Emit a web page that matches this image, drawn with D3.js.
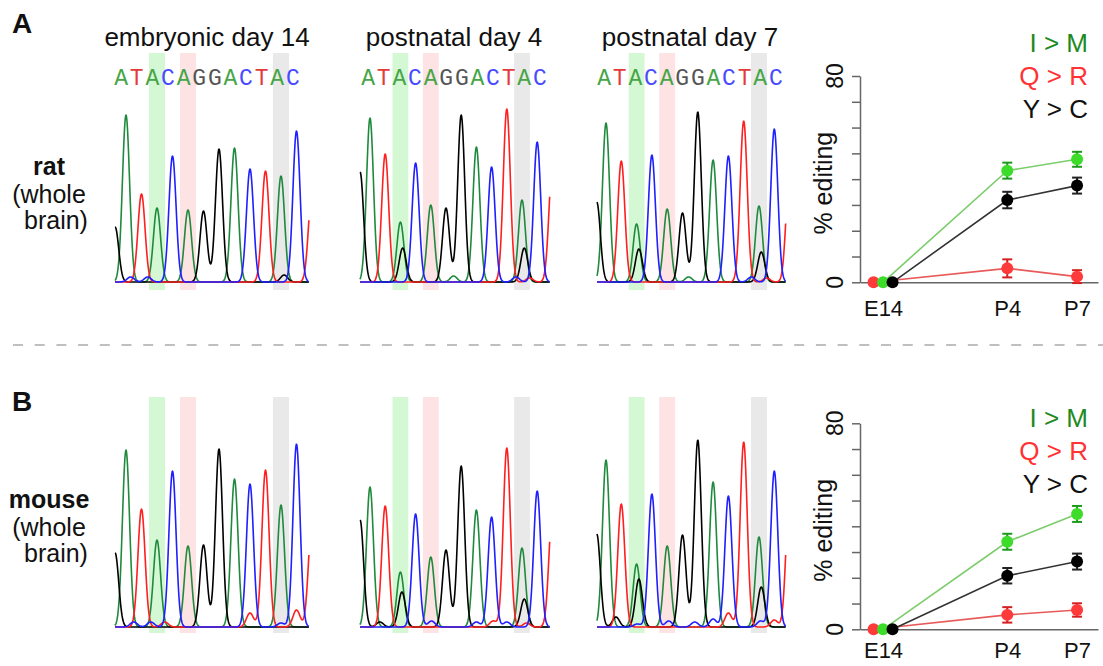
<!DOCTYPE html>
<html>
<head>
<meta charset="utf-8">
<script src="https://cdn.jsdelivr.net/npm/d3@7"></script>
<style>
	body { margin: 0; background: #fff; }
	svg { display: block; }
</style>
</head>
<body>
<svg id="figure" width="1103" height="666"></svg>
<script>
// sequence read above the traces, and the three edited bases in it
const sequence = ['A', 'T', 'A', 'C', 'A', 'G', 'G', 'A', 'C', 'T', 'A', 'C'];
const editSites = [3, 5, 11];
const columnTitles = ['embryonic day 14', 'postnatal day 4', 'postnatal day 7'];

// chromatogram peaks: [base position, base, peak height]
const ratE14 = [
	[0.3, 'G', 55], [1, 'A', 167], [1.3, 'C', 5], [2, 'T', 88], [2.4, 'C', 5],
	[3, 'A', 74], [4, 'C', 126], [5, 'A', 72], [6, 'G', 71], [7, 'G', 133],
	[8, 'A', 134], [9, 'C', 113], [10, 'T', 111], [11, 'A', 106], [11.2, 'G', 7],
	[12, 'C', 151], [13, 'T', 90],
];
const ratP4 = [
	[0.35, 'G', 110], [1, 'A', 164], [2, 'T', 128], [3, 'A', 60], [3.15, 'G', 34],
	[4, 'C', 119], [5, 'A', 77], [6, 'G', 74], [6.5, 'A', 6], [7, 'G', 167],
	[8, 'A', 135], [9, 'C', 115], [10, 'T', 173], [10.6, 'C', 5], [11, 'A', 82],
	[11.15, 'G', 34], [11.5, 'T', 4], [12, 'C', 140], [13, 'T', 115],
];
const ratP7 = [
	[0.4, 'G', 80], [1, 'A', 159], [2, 'T', 121], [3, 'A', 58], [3.15, 'G', 33],
	[4, 'C', 127], [5, 'A', 73], [6, 'G', 69], [6.4, 'A', 5], [7, 'G', 170],
	[8, 'A', 122], [9, 'C', 126], [10, 'T', 161], [10.5, 'C', 5], [11, 'A', 76],
	[11.15, 'G', 30], [11.5, 'T', 4], [12, 'C', 153], [13, 'T', 110],
];
const mouseE14 = [
	[0.3, 'G', 74], [1, 'A', 177], [1.5, 'C', 5], [2, 'T', 118], [2.6, 'C', 5],
	[3, 'A', 87], [3.5, 'T', 5], [4, 'C', 156], [5, 'A', 81], [6, 'G', 82],
	[7, 'G', 178], [8, 'A', 148], [9, 'C', 143], [9, 'T', 14], [10, 'T', 157],
	[11, 'A', 122], [11, 'C', 4], [12, 'C', 183], [12, 'T', 17], [13, 'T', 105],
];
const mouseP4 = [
	[0.35, 'G', 107], [1, 'A', 140], [1.65, 'G', 5], [2, 'T', 121], [3, 'A', 55],
	[3.1, 'G', 35], [4, 'C', 113], [5, 'A', 70], [5.05, 'C', 6], [6, 'G', 77],
	[7, 'G', 161], [8, 'A', 117], [8, 'C', 5], [9, 'C', 110], [9.1, 'T', 6],
	[10, 'T', 179], [10, 'C', 5], [11, 'A', 79], [11.15, 'G', 28], [11.3, 'T', 4],
	[12, 'C', 136], [13, 'T', 115],
];
const mouseP7 = [
	[0.4, 'G', 93], [1, 'A', 167], [1.65, 'G', 10], [2, 'T', 123], [3, 'A', 63],
	[3.15, 'G', 48], [3.05, 'C', 3], [4, 'C', 133], [5, 'A', 81], [5.1, 'C', 6],
	[6, 'G', 92], [6.8, 'C', 5], [7, 'G', 187], [8, 'A', 145], [8, 'C', 8],
	[9, 'C', 131], [9, 'T', 14], [10, 'T', 185], [11, 'A', 90], [11.15, 'G', 40],
	[11.1, 'C', 6], [12, 'C', 156], [12, 'T', 7], [13, 'T', 135],
];

// % editing per developmental stage (mean, sem)
const stages = ['E14', 'P4', 'P7'];
const stageSpacing = [0, 1.78, 2.78];
const editNames = ['I > M', 'Q > R', 'Y > C'];
const ratIM = [0, 43.3, 47.7];
const ratIMErr = [0, 3.1, 2.9];
const ratQR = [0, 5.4, 2.2];
const ratQRErr = [0, 3.5, 2.5];
const ratYC = [0, 31.9, 37.5];
const ratYCErr = [0, 3.2, 3.1];
const mouseIM = [0, 34.0, 44.8];
const mouseIMErr = [0, 3.1, 3.1];
const mouseQR = [0, 5.6, 7.5];
const mouseQRErr = [0, 3.0, 2.6];
const mouseYC = [0, 20.8, 26.3];
const mouseYCErr = [0, 3.0, 3.1];
const yTickLabels = [0, 80];

// styles
const sans = '"Liberation Sans", Arial, Helvetica, sans-serif';
const mono = '"Courier New", "Liberation Mono", monospace';
const baseColor = { A: '#1f8a3d', C: '#1f1fff', G: '#000000', T: '#ff1f1f' };
const letterColor = { A: '#46a546', C: '#4a4aff', G: '#555555', T: '#e23b3b' };
const bandColor = ['#d4f8d4', '#fde3e3', '#e9e9e9'];
const editStyle = {
	'I > M': { dot: '#3ddc2a', line: '#7ccc6c', err: '#1d9a1d', text: '#1e8a1e', dodge: 0 },
	'Q > R': { dot: '#ff3a3a', line: '#e85a5a', err: '#d42020', text: '#ff3333', dodge: -9.5 },
	'Y > C': { dot: '#000000', line: '#333333', err: '#222222', text: '#111111', dodge: 9.5 },
};

const columns = [
	{ center: 207, pos1: 126, step: 15.5, x0: 115, x1: 309 },
	{ center: 454, pos1: 370, step: 15.2, x0: 360, x1: 550 },
	{ center: 690, pos1: 606, step: 15.3, x0: 597, x1: 786 },
];

const rows = [
	{
		letter: 'A', letterY: 33,
		label: ['rat', '(whole', 'brain)'], labelY: [175, 203, 229],
		traces: [ratE14, ratP4, ratP7], base: 282, bandTop: 53, bandBottom: 290, showSeq: true,
		chartZero: 282.3, chartTop: 76, stageY: 300, legendY: 52,
		series: [
			['Q > R', ratQR, ratQRErr],
			['I > M', ratIM, ratIMErr],
			['Y > C', ratYC, ratYCErr],
		],
	},
	{
		letter: 'B', letterY: 411,
		label: ['mouse', '(whole', 'brain)'], labelY: [508, 536, 562],
		traces: [mouseE14, mouseP4, mouseP7], base: 627, bandTop: 397, bandBottom: 633, showSeq: false,
		chartZero: 629.3, chartTop: 423.3, stageY: 642, legendY: 427,
		series: [
			['Q > R', mouseQR, mouseQRErr],
			['I > M', mouseIM, mouseIMErr],
			['Y > C', mouseYC, mouseYCErr],
		],
	},
];

const svg = d3.select('#figure').style('font-family', sans);
const sigma = 0.23; // peak width in base units
const letterSpacing = 1.8;

// sum of the peaks of one base along the visible window
function channel(peaks, b, lo, hi) {
	const pts = [];
	for (let p = lo; p <= hi + 1e-9; p += 0.03) {
		let v = 0;
		peaks.forEach(([pos, base, h]) => {
			if (base === b) v += h * Math.exp(-((p - pos) ** 2) / (2 * sigma * sigma));
		});
		pts.push([p, v]);
	}
	return pts;
}

function drawTrace(g, peaks, col, row) {
	const x = d3.scaleLinear().domain([1, 12]).range([col.pos1, col.pos1 + 11 * col.step]);
	const y = d3.scaleLinear().domain([0, 190]).range([row.base, row.base - 190]);

	// highlighted edit sites
	g.append('g')
		.selectAll('rect')
		.data(editSites)
		.join('rect')
		.attr('x', (d) => x(d - 0.52))
		.attr('width', (d) => x(d + 0.52) - x(d - 0.52))
		.attr('y', row.bandTop)
		.attr('height', row.bandBottom - row.bandTop)
		.attr('fill', (d, i) => bandColor[i]);

	if (row.showSeq) {
		const t = g.append('text')
			.attr('x', col.center + letterSpacing / 2)
			.attr('y', 85)
			.attr('text-anchor', 'middle')
			.attr('font-family', mono)
			.attr('font-size', 23)
			.attr('letter-spacing', letterSpacing);
		t.selectAll('tspan')
			.data(sequence)
			.join('tspan')
			.attr('fill', (d) => letterColor[d])
			.text((d) => d);
	}

	const lo = x.invert(col.x0);
	const hi = x.invert(col.x1);
	const line = d3.line().x((d) => x(d[0])).y((d) => y(d[1]));
	['A', 'G', 'T', 'C'].forEach((b) => {
		g.append('path')
			.attr('d', line(channel(peaks, b, lo, hi)))
			.attr('fill', 'none')
			.attr('stroke', baseColor[b])
			.attr('stroke-width', 1.6)
			.attr('stroke-linejoin', 'round');
	});
}

function drawEditing(g, row) {
	const x = d3.scaleLinear().domain([-0.33, 3.08]).range([860, 1098]);
	const y = d3.scaleLinear().domain([0, 80]).range([row.chartZero, row.chartTop]);

	// y axis with minor ticks every 10
	g.append('g')
		.attr('transform', `translate(${x(-0.33)},0)`)
		.call(d3.axisLeft(y).tickValues(d3.range(0, 81, 10)).tickSize(8).tickSizeOuter(0).tickFormat(''))
		.call((a) => a.selectAll('path, line').attr('stroke', '#666').attr('stroke-width', 1.5));

	g.append('g')
		.selectAll('text')
		.data(yTickLabels)
		.join('text')
		.attr('transform', (d) => `translate(843,${y(d)}) rotate(-90)`)
		.attr('text-anchor', 'middle')
		.attr('font-size', 23)
		.attr('fill', '#111')
		.text((d) => d);

	g.append('text')
		.attr('transform', `translate(832,${(row.chartZero + row.chartTop) / 2 + 4}) rotate(-90)`)
		.attr('text-anchor', 'middle')
		.attr('font-size', 25)
		.attr('fill', '#111')
		.text('% editing');

	// x axis with stage labels
	g.append('g')
		.attr('transform', `translate(0,${y(0)})`)
		.call(d3.axisBottom(x).tickValues(stageSpacing).tickSize(0).tickSizeOuter(0)
			.tickPadding(row.stageY - row.chartZero).tickFormat((d, i) => stages[i]))
		.call((a) => a.select('.domain').attr('stroke', '#666').attr('stroke-width', 1.5))
		.call((a) => a.selectAll('.tick text').attr('font-size', 22).attr('font-family', sans).attr('fill', '#111'));

	row.series.forEach(([name, values, errs]) => {
		const st = editStyle[name];
		const pts = values.map((v, i) => ({
			x: x(stageSpacing[i]) + (i === 0 ? st.dodge : 0),
			v,
			e: errs[i],
		}));
		const s = g.append('g');
		s.append('path')
			.attr('d', d3.line().x((d) => d.x).y((d) => y(d.v))(pts))
			.attr('fill', 'none')
			.attr('stroke', st.line)
			.attr('stroke-width', 1.6);

		const bars = s.selectAll('.err').data(pts.filter((d) => d.e > 0)).join('g').attr('stroke', st.err).attr('stroke-width', 2);
		bars.append('line')
			.attr('x1', (d) => d.x).attr('x2', (d) => d.x)
			.attr('y1', (d) => y(d.v - d.e)).attr('y2', (d) => y(d.v + d.e));
		bars.append('line')
			.attr('x1', (d) => d.x - 5).attr('x2', (d) => d.x + 5)
			.attr('y1', (d) => y(d.v + d.e)).attr('y2', (d) => y(d.v + d.e));
		bars.append('line')
			.attr('x1', (d) => d.x - 5).attr('x2', (d) => d.x + 5)
			.attr('y1', (d) => y(d.v - d.e)).attr('y2', (d) => y(d.v - d.e));

		s.selectAll('circle')
			.data(pts)
			.join('circle')
			.attr('cx', (d) => d.x)
			.attr('cy', (d) => y(d.v))
			.attr('r', 6)
			.attr('fill', st.dot);
	});

	// legend
	g.append('g')
		.selectAll('text')
		.data(editNames)
		.join('text')
		.attr('x', 1088)
		.attr('y', (d, i) => row.legendY + i * 33)
		.attr('text-anchor', 'end')
		.attr('font-size', 26)
		.attr('fill', (d) => editStyle[d].text)
		.text((d) => d);
}

// column titles
svg.append('g')
	.selectAll('text')
	.data(columnTitles)
	.join('text')
	.attr('x', (d, i) => columns[i].center)
	.attr('y', 46)
	.attr('text-anchor', 'middle')
	.attr('font-size', 26)
	.attr('fill', '#111')
	.text((d) => d);

rows.forEach((row) => {
	const g = svg.append('g');

	g.append('text')
		.attr('x', 12)
		.attr('y', row.letterY)
		.attr('font-size', 28)
		.attr('font-weight', 'bold')
		.attr('fill', '#111')
		.text(row.letter);

	g.append('g')
		.selectAll('text')
		.data(row.label)
		.join('text')
		.attr('x', (d, i) => (i === 2 ? 56 : 49))
		.attr('y', (d, i) => row.labelY[i])
		.attr('text-anchor', 'middle')
		.attr('font-size', 25)
		.attr('font-weight', (d, i) => (i === 0 ? 'bold' : 'normal'))
		.attr('fill', '#111')
		.text((d) => d);

	row.traces.forEach((peaks, i) => drawTrace(g.append('g'), peaks, columns[i], row));
	drawEditing(g.append('g'), row);
});

// divider between the two panels
svg.append('line')
	.attr('x1', 13).attr('x2', 1103)
	.attr('y1', 345).attr('y2', 345)
	.attr('stroke', '#aaa')
	.attr('stroke-width', 1.5)
	.attr('stroke-dasharray', '10 11.7');
</script>
</body>
</html>
